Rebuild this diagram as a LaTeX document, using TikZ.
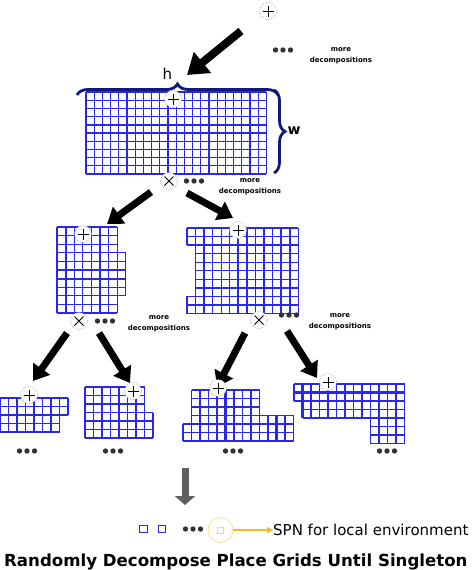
\documentclass[tikz,border=0pt]{standalone}
\usepackage{fontspec}
\setmainfont{DejaVu Sans}
\usetikzlibrary{arrows.meta,decorations.pathreplacing}
\definecolor{gridblue}{RGB}{40,40,230}
\definecolor{navy}{RGB}{15,25,120}
\definecolor{arrowgrey}{RGB}{95,95,95}
\definecolor{spnyellow}{RGB}{240,190,20}
\definecolor{ringyellow}{RGB}{245,225,140}
\definecolor{paleblue}{RGB}{200,215,240}
\definecolor{dotgrey}{RGB}{50,50,50}
% block of cells: x0 y0 cell colfirst collast rowfirst rowlast
\newcommand{\gblk}[7]{%
  \pgfmathsetmacro{\gxa}{#1+#4*#3}\pgfmathsetmacro{\gxb}{#1+(#5+1)*#3}%
  \pgfmathsetmacro{\gya}{#2+#6*#3}\pgfmathsetmacro{\gyb}{#2+(#7+1)*#3}%
  \pgfmathtruncatemacro{\gre}{#7+1}\pgfmathtruncatemacro{\gce}{#5+1}%
  \foreach \gi in {#6,...,\gre}{\draw[gridline] (\gxa,{#2+\gi*#3}) -- (\gxb,{#2+\gi*#3});}%
  \foreach \gj in {#4,...,\gce}{\draw[gridline] ({#1+\gj*#3},\gya) -- ({#1+\gj*#3},\gyb);}}
\newcommand{\threedots}[2]{%
  \foreach \k in {-1,0,1}{\fill[dotgrey] ({#1+\k*7.5},#2) circle[radius=2.7pt];}}
\tikzset{
  gridline/.style={draw=gridblue,line width=1.3pt},
  thickgrid/.style={draw=gridblue,line width=2.1pt},
  opcircle/.style={circle,draw=gray!80,densely dotted,fill=white,minimum size=17pt,inner sep=0pt,line width=0.6pt},
  plusnode/.style={opcircle,path picture={
    \draw[black,line width=1pt,solid] ([xshift=-5.5pt]path picture bounding box.center) -- ([xshift=5.5pt]path picture bounding box.center);
    \draw[black,line width=1pt,solid] ([yshift=-5.5pt]path picture bounding box.center) -- ([yshift=5.5pt]path picture bounding box.center);}},
  timesnode/.style={opcircle,path picture={
    \draw[black,line width=1pt,solid] ([xshift=-4.5pt,yshift=-4.5pt]path picture bounding box.center) -- ([xshift=4.5pt,yshift=4.5pt]path picture bounding box.center);
    \draw[black,line width=1pt,solid] ([xshift=-4.5pt,yshift=4.5pt]path picture bounding box.center) -- ([xshift=4.5pt,yshift=-4.5pt]path picture bounding box.center);}},
  bigarrow/.style={black,line width=8pt,-{Triangle[length=20pt,width=26pt]}},
  midarrow/.style={black,line width=7pt,-{Triangle[length=15pt,width=20pt]}},
  morelbl/.style={align=center,inner sep=0pt,font=\fontsize{7}{11}\selectfont\bfseries},
  bracestyle/.style={draw=navy,line width=2.8pt,decorate,decoration={brace,amplitude=11pt}},
}
\begin{document}
\begin{tikzpicture}[x=1pt,y=-1pt]
\useasboundingbox (0,0) rectangle (474,570);
% top
\node[plusnode] (ptop) at (268,11) {};
\threedots{283}{50}
\node[morelbl] (mtop) at (341,56) {more\\decompositions};
\coordinate (a0s) at (241,31);
\coordinate (a0e) at (187,75);
\draw[bigarrow] (a0s) -- (a0e);
% big grid
\gblk{86}{92}{8.2}{0}{21}{0}{9}
\draw[thickgrid] (127,92) -- (127,174);
\draw[thickgrid] (168,92) -- (168,174);
\draw[thickgrid] (86,124.8) -- (266.4,124.8);
\coordinate (hb1) at (77,95);
\coordinate (hb2) at (278,95);
\draw[bracestyle] (hb1) -- (hb2);
\node[font=\fontsize{15}{17}\selectfont] (hl) at (167.5,74) {h};
\coordinate (wb1) at (274,90);
\coordinate (wb2) at (274,173);
\draw[bracestyle] (wb1) -- (wb2);
\node[font=\fontsize{14}{16}\selectfont\bfseries] (wl) at (294,131) {w};
\node[plusnode] (pbig) at (173,99) {};
\node[timesnode] (tbig) at (169,181) {};
\threedots{194}{181}
\node[morelbl] (mbig) at (250,186.5) {more\\decompositions};
\coordinate (a1s) at (151,192);
\coordinate (a1e) at (107,224);
\coordinate (a2s) at (187,193);
\coordinate (a2e) at (233,218);
\draw[midarrow] (a1s) -- (a1e);
\draw[midarrow] (a2s) -- (a2e);
% middle left grid
\gblk{57}{227}{8.6}{0}{6}{0}{2}
\gblk{57}{227}{8.6}{0}{7}{3}{7}
\gblk{57}{227}{8.6}{0}{6}{8}{9}
\draw[thickgrid] (65.6,227) -- (65.6,313);
\draw[thickgrid] (57,278.6) -- (125.8,278.6);
\node[plusnode] (pml) at (83,234) {};
\node[timesnode] (tml) at (79,321) {};
\threedots{105}{321}
\node[morelbl] (mml) at (159,323.5) {more\\decompositions};
% middle right grid
\gblk{187}{228}{8.55}{0}{12}{0}{1}
\gblk{187}{228}{8.55}{1}{12}{2}{7}
\gblk{187}{228}{8.55}{0}{12}{8}{9}
\draw[thickgrid] (238.3,228) -- (238.3,313.5);
\draw[thickgrid] (289.6,228) -- (289.6,313.5);
\node[plusnode] (pmr) at (238,230) {};
\node[timesnode] (tmr) at (259,320) {};
\threedots{289}{315}
\node[morelbl] (mmr) at (340,321.5) {more\\decompositions};
% arrows to bottom
\coordinate (b1s) at (67,333);
\coordinate (b1e) at (33,381);
\coordinate (b2s) at (99,333);
\coordinate (b2e) at (130,383);
\coordinate (b3s) at (245,333);
\coordinate (b3e) at (217,387);
\coordinate (b4s) at (287,331);
\coordinate (b4e) at (317,378);
\draw[midarrow] (b1s) -- (b1e);
\draw[midarrow] (b2s) -- (b2e);
\draw[midarrow] (b3s) -- (b3e);
\draw[midarrow] (b4s) -- (b4e);
% bottom grid 1
\gblk{0}{398}{8.5}{0}{7}{0}{1}
\gblk{0}{398}{8.5}{0}{6}{2}{3}
\draw[thickgrid] (51,398) -- (51,432);
\draw[thickgrid] (0,415) -- (59.5,415);
\node[plusnode] (pg1) at (29,395) {};
\threedots{27}{451}
% bottom grid 2
\gblk{85}{387}{8.5}{0}{6}{0}{2}
\gblk{85}{387}{8.5}{0}{7}{3}{5}
\draw[thickgrid] (119,387) -- (119,438);
\draw[thickgrid] (85,421) -- (153,421);
\node[plusnode] (pg2) at (133,391) {};
\threedots{113}{451}
% bottom grid 3
\gblk{183}{390}{8.5}{1}{8}{0}{2}
\gblk{183}{390}{8.5}{1}{12}{3}{3}
\gblk{183}{390}{8.5}{0}{12}{4}{5}
\draw[thickgrid] (225.5,390) -- (225.5,441);
\draw[thickgrid] (276.5,415.5) -- (276.5,441);
\draw[thickgrid] (183,424) -- (293.5,424);
\node[plusnode] (pg3) at (218,388) {};
\threedots{233}{451}
% bottom grid 4
\gblk{294}{384}{8.5}{0}{12}{0}{1}
\gblk{294}{384}{8.5}{1}{12}{2}{3}
\gblk{294}{384}{8.5}{9}{12}{4}{6}
\draw[thickgrid] (302.5,384) -- (302.5,418);
\draw[thickgrid] (362,384) -- (362,418);
\draw[thickgrid] (294,392.5) -- (404.5,392.5);
\node[plusnode] (pg4) at (328,382) {};
\threedots{387}{451}
% grey arrow
\coordinate (gs) at (185,468);
\coordinate (ge) at (185,505);
\draw[arrowgrey,line width=7pt,-{Triangle[length=9pt,width=20pt]}] (gs) -- (ge);
% singletons
\node[draw=gridblue,line width=0.9pt,minimum size=7.5pt,inner sep=0pt] (s1) at (143.5,529) {};
\node[draw=gridblue,line width=0.9pt,minimum size=7.5pt,inner sep=0pt] (s2) at (162,529) {};
\threedots{193}{529}
\node[circle,draw=ringyellow,line width=0.8pt,minimum size=25pt,inner sep=0pt] (ring) at (220.5,530) {};
\node[draw=paleblue,line width=0.7pt,minimum size=6pt,inner sep=0pt] (s3) at (220.5,530) {};
\node[anchor=west,inner sep=0pt,font=\fontsize{15}{18}\selectfont] (spn) at (273,530) {SPN for local environment};
\draw[spnyellow,line width=1.6pt,-{Triangle[length=6pt,width=6pt]}] (ring) -- (spn.west);
\node[anchor=west,inner sep=0pt,font=\fontsize{16.6}{19}\selectfont\bfseries] (title) at (4,562) {Randomly Decompose Place Grids Until Singleton};
\end{tikzpicture}
\end{document}
